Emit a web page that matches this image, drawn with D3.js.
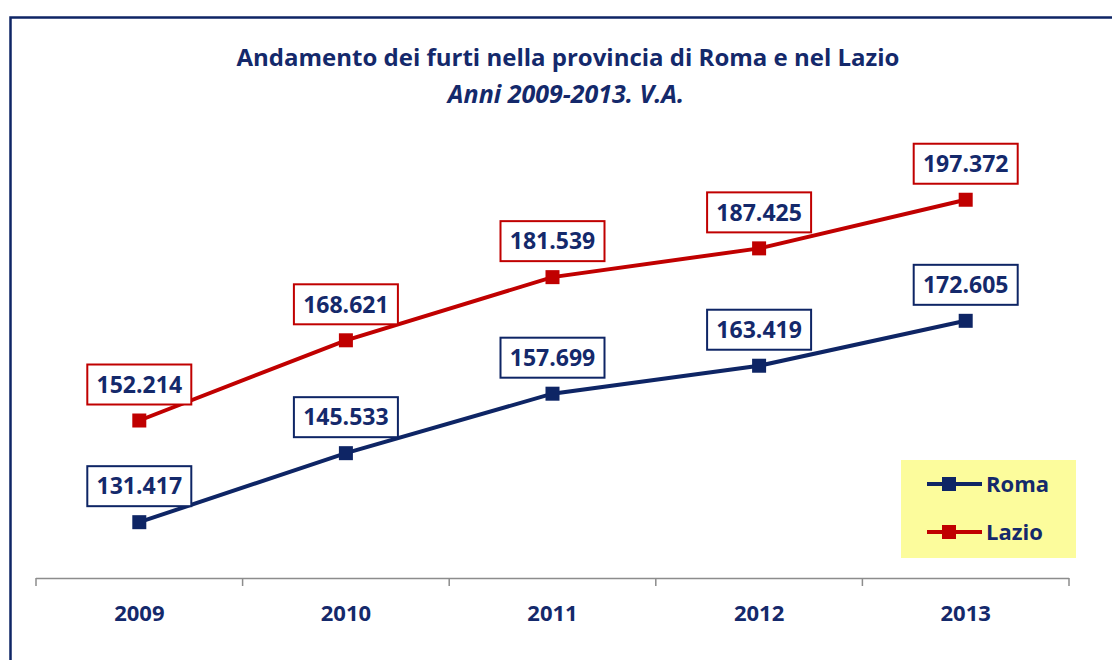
<!DOCTYPE html>
<html lang="it">
<head>
  <meta charset="UTF-8">
  <title>Andamento dei furti - Roma e Lazio</title>
  <script src="https://d3js.org/d3.v7.min.js"></script>
  <style>
    body { margin: 0; background: #fff; }
    text { font-family: "Open Sans", sans-serif; fill: #14296b; }
  </style>
</head>
<body>
  <svg width="1112" height="660"></svg>
  <script>
    const years = ["2009", "2010", "2011", "2012", "2013"];
    const roma = [131.417, 145.533, 157.699, 163.419, 172.605];
    const lazio = [152.214, 168.621, 181.539, 187.425, 197.372];
    const seriesNames = ["Roma", "Lazio"];
    const colors = {Roma: "#0e2565", Lazio: "#c00000"};

    const svg = d3.select("svg");

    // outer frame (continues beyond the picture on right and bottom)
    svg.append("rect")
      .attr("x", 10.5).attr("y", 17.5)
      .attr("width", 1200).attr("height", 800)
      .attr("fill", "none").attr("stroke", "#0e2565").attr("stroke-width", 2.5);

    // title
    svg.append("text")
      .attr("x", 568).attr("y", 66)
      .attr("text-anchor", "middle")
      .style("font-size", "24px").style("font-weight", "bold")
      .text("Andamento dei furti nella provincia di Roma e nel Lazio");
    svg.append("text")
      .attr("x", 566).attr("y", 103)
      .attr("text-anchor", "middle")
      .style("font-size", "25px").style("font-weight", "bold").style("font-style", "italic")
      .text("Anni 2009-2013. V.A.");

    const x = d3.scaleBand().domain(years).range([36, 1069]);
    const y = d3.scaleLinear().domain([120, 210]).range([578, 138]);
    const cx = d => x(d) + x.bandwidth() / 2;

    // x axis
    const axis = svg.append("g")
      .attr("transform", "translate(0,578.5)")
      .call(d3.axisBottom(x).tickSize(0).tickPadding(24));
    axis.select(".domain").attr("stroke", "#8c8c8c").attr("stroke-width", 1.5)
      .attr("d", "M36,0H1069");
    axis.selectAll("text")
      .style("font-size", "22px").style("font-weight", "bold")
      .attr("fill", "#14296b").attr("dy", "0.82em");
    svg.append("g").selectAll("line")
      .data(d3.range(years.length + 1))
      .join("line")
      .attr("x1", i => 36 + i * x.bandwidth()).attr("x2", i => 36 + i * x.bandwidth())
      .attr("y1", 578).attr("y2", 586)
      .attr("stroke", "#8c8c8c").attr("stroke-width", 1.5);

    const data = {Roma: roma, Lazio: lazio};
    const line = d3.line().x((d, i) => cx(years[i])).y(d => y(d));

    seriesNames.forEach(name => {
      const vals = data[name];
      const g = svg.append("g");
      g.append("path")
        .datum(vals)
        .attr("d", line)
        .attr("fill", "none")
        .attr("stroke", colors[name])
        .attr("stroke-width", 4);
      g.selectAll("rect.mk")
        .data(vals)
        .join("rect")
        .attr("class", "mk")
        .attr("x", (d, i) => cx(years[i]) - 7)
        .attr("y", d => y(d) - 7)
        .attr("width", 14).attr("height", 14)
        .attr("fill", colors[name]);
      // value labels in boxes
      const lab = g.selectAll("g.lab")
        .data(vals)
        .join("g")
        .attr("class", "lab")
        .attr("transform", (d, i) => `translate(${cx(years[i])},${y(d) - 36})`);
      lab.append("rect")
        .attr("x", -52).attr("y", -20)
        .attr("width", 104).attr("height", 40)
        .attr("fill", "#fff")
        .attr("stroke", colors[name]).attr("stroke-width", 2);
      lab.append("text")
        .attr("text-anchor", "middle")
        .attr("dy", "0.36em")
        .style("font-size", "23px").style("font-weight", "bold")
        .text(d => d.toFixed(3));
    });

    // legend
    const leg = svg.append("g").attr("transform", "translate(901,460)");
    leg.append("rect").attr("width", 175).attr("height", 98).attr("fill", "#fcfc9c");
    seriesNames.forEach((name, i) => {
      const ly = 24 + i * 48;
      leg.append("line")
        .attr("x1", 26).attr("x2", 81).attr("y1", ly).attr("y2", ly)
        .attr("stroke", colors[name]).attr("stroke-width", 4);
      leg.append("rect")
        .attr("x", 41).attr("y", ly - 7).attr("width", 14).attr("height", 14)
        .attr("fill", colors[name]);
      leg.append("text")
        .attr("x", 85).attr("y", ly).attr("dy", "0.36em")
        .style("font-size", "22px").style("font-weight", "bold")
        .text(name);
    });
  </script>
</body>
</html>
